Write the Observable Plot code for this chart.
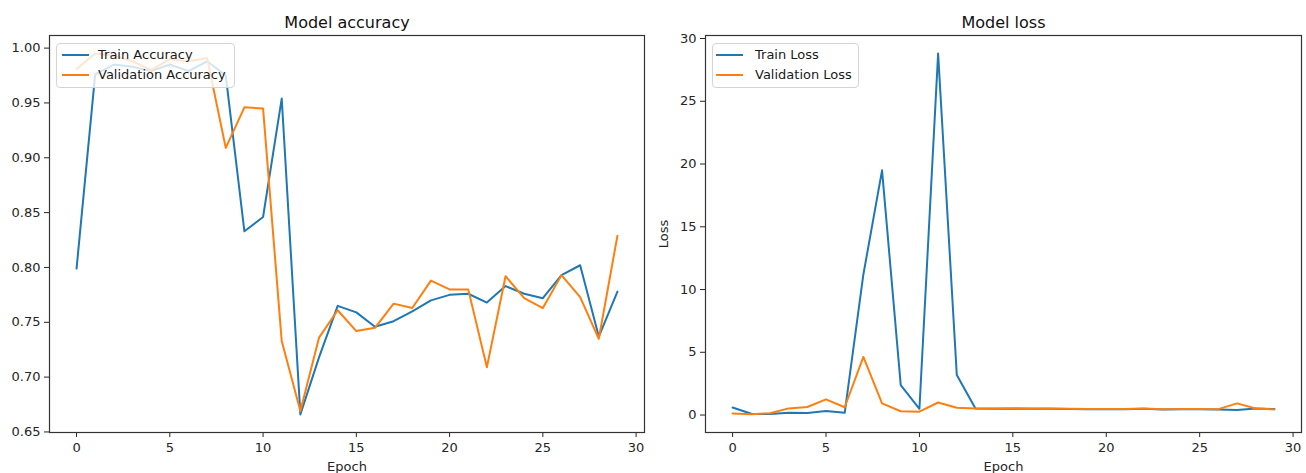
<!DOCTYPE html>
<html><head><meta charset="utf-8">
<script src="https://cdn.jsdelivr.net/npm/d3@7"></script>
<script src="https://cdn.jsdelivr.net/npm/@observablehq/plot@0.6"></script>
<style>
body{margin:0;background:#fff;font-family:"DejaVu Sans",sans-serif;}
#wrap{position:relative;width:1306px;height:473px;overflow:hidden;background:#fff;}
#wrap svg{position:absolute;top:0;}
.legend{position:absolute;background:rgba(255,255,255,0.8);border:1px solid #d4d4d4;border-radius:4px;box-sizing:border-box;font-size:13px;color:#1a1a1a;}
.item{position:absolute;left:0;right:0;height:20px;}
.sw{position:absolute;top:9px;height:2px;width:27px;}
.lb{position:absolute;top:2px;white-space:nowrap;line-height:16px;}
</style>
</head><body>
<div id="wrap"></div>
<script>
const epochs = [0,1,2,3,4,5,6,7,8,9,10,11,12,13,14,15,16,17,18,19,20,21,22,23,24,25,26,27,28,29];
const trainAcc = [0.799,0.976,0.985,0.983,0.979,0.985,0.979,0.988,0.975,0.833,0.846,0.954,0.666,0.718,0.765,0.759,0.746,0.751,0.760,0.770,0.775,0.776,0.768,0.783,0.776,0.772,0.793,0.802,0.737,0.778];
const valAcc = [0.981,0.995,0.993,0.988,0.980,0.990,0.988,0.991,0.909,0.946,0.945,0.733,0.669,0.736,0.761,0.742,0.745,0.767,0.763,0.788,0.780,0.780,0.709,0.792,0.772,0.763,0.793,0.773,0.735,0.829];
const trainLoss = [0.6,0.1,0.08,0.18,0.17,0.32,0.18,11.2,19.5,2.38,0.5,28.8,3.2,0.53,0.5,0.5,0.5,0.5,0.48,0.47,0.47,0.46,0.5,0.45,0.47,0.46,0.45,0.4,0.52,0.48];
const valLoss = [0.13,0.07,0.15,0.53,0.64,1.25,0.62,4.63,0.93,0.3,0.27,1.0,0.58,0.53,0.52,0.54,0.52,0.52,0.5,0.49,0.49,0.48,0.52,0.47,0.49,0.48,0.47,0.93,0.52,0.45];

const accSeries = ["Train Accuracy","Validation Accuracy"];
const lossSeries = ["Train Loss","Validation Loss"];
const colors = ["#1f77b4","#ff7f0e"];
const xTicks = [0,5,10,15,20,25,30];
const accTicks = [0.65,0.70,0.75,0.80,0.85,0.90,0.95,1.00];
const lossTicks = [0,5,10,15,20,25,30];

function tidy(names, a, b) {
  return [
    ...epochs.map((e,i)=>({epoch:e, value:a[i], series:names[0]})),
    ...epochs.map((e,i)=>({epoch:e, value:b[i], series:names[1]}))
  ];
}

function chart({data, names, yDomain, yTicks, yFormat, yLabel, title, width, marginLeft, marginRight}) {
  return Plot.plot({
    width, height: 473, marginTop: 35, marginBottom: 41, marginLeft, marginRight,
    style: {fontFamily: "DejaVu Sans, sans-serif", fontSize: "13px", color: "#262626", background: "transparent", overflow: "visible"},
    x: {domain: [-1.45, 30.45], ticks: xTicks, tickFormat: d => String(d), tickSize: 5, tickPadding: 5, label: "Epoch", labelAnchor: "center", labelArrow: "none", labelOffset: 38},
    y: {domain: yDomain, ticks: yTicks, tickFormat: yFormat, tickSize: 5, tickPadding: 4, label: yLabel, labelAnchor: "center", labelArrow: "none", labelOffset: 47},
    color: {domain: names, range: colors},
    marks: [
      Plot.line(data, {x: "epoch", y: "value", stroke: "series", strokeWidth: 2}),
      Plot.frame({stroke: "#333", strokeWidth: 1.2}),
      Plot.text([title], {frameAnchor: "top", lineAnchor: "middle", dy: -13, fontSize: 16, fill: "#111"})
    ]
  });
}

const wrap = document.getElementById("wrap");
const left = chart({data: tidy(accSeries, trainAcc, valAcc), names: accSeries, yDomain: [0.6495, 1.0115], yTicks: accTicks, yFormat: d3.format(".2f"), yLabel: null, title: "Model accuracy", width: 653, marginLeft: 49, marginRight: 9});
left.style.left = "0px";
wrap.appendChild(left);
const right = chart({data: tidy(lossSeries, trainLoss, valLoss), names: lossSeries, yDomain: [-1.39, 30.24], yTicks: lossTicks, yFormat: d => String(d), yLabel: "Loss", title: "Model loss", width: 653, marginLeft: 52, marginRight: 5});
right.style.left = "653px";
wrap.appendChild(right);

function legend(names, box) {
  const lg = d3.select(wrap).append("div").attr("class","legend")
    .style("left", box.left+"px").style("top", box.top+"px")
    .style("width", box.width+"px").style("height", box.height+"px");
  names.forEach((n,i) => {
    const it = lg.append("div").attr("class","item").style("top", (1 + i*20)+"px");
    it.append("div").attr("class","sw").style("left", box.swLeft+"px").style("background", colors[i]);
    it.append("div").attr("class","lb").style("left", box.textLeft+"px").text(n);
  });
}
legend(accSeries, {left: 56, top: 43, width: 179, height: 45, swLeft: 5, textLeft: 41});
legend(lossSeries, {left: 712, top: 43, width: 147, height: 45, swLeft: 3, textLeft: 42});
</script>
</body></html>
